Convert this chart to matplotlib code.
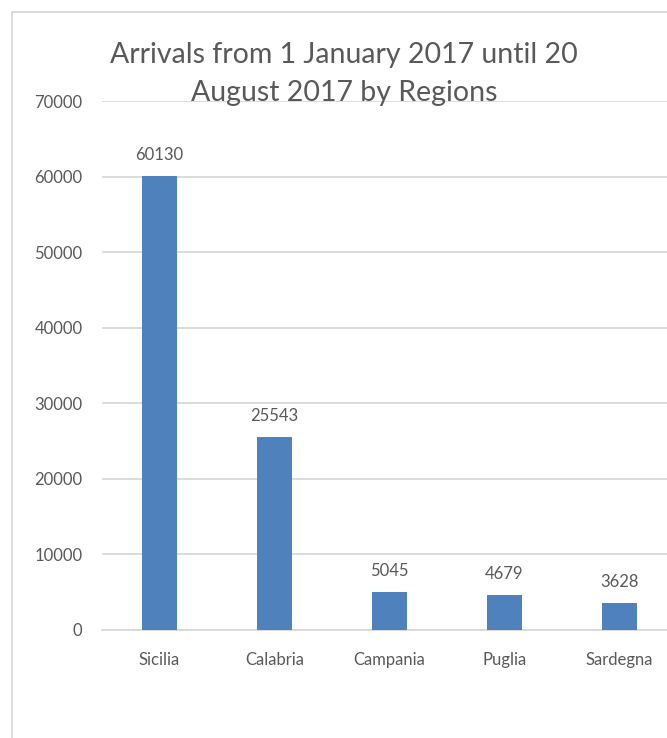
import matplotlib
matplotlib.use("Agg")
import matplotlib.pyplot as plt
from matplotlib.lines import Line2D

regions = ["Sicilia", "Calabria", "Campania", "Puglia", "Sardegna"]
arrivals = [60130, 25543, 5045, 4679, 3628]
yticks = [0, 10000, 20000, 30000, 40000, 50000, 60000, 70000]

plt.rcParams['font.family'] = ['Lato', 'DejaVu Sans']
text_col = "#595959"
grid_col = "#D9D9D9"
bar_col = "#4F81BD"

fig = plt.figure(figsize=(6.67, 7.38), dpi=100)
# axes run past the right edge, as in the cropped screenshot
ax = fig.add_axes([102 / 667, 108 / 738, 575 / 667, 529 / 738])

x = range(len(regions))
bars = ax.bar(x, arrivals, width=0.31, color=bar_col, zorder=3)
for b, v in zip(bars, arrivals):
    ax.annotate(str(v), (b.get_x() + b.get_width() / 2, v), xytext=(0, 9),
                textcoords="offset points", ha="center", va="bottom",
                fontsize=12, color=text_col)

ax.set_xlim(-0.5, len(regions) - 0.5)
ax.set_ylim(0, 70000)
ax.set_yticks(yticks)
ax.set_yticklabels([str(t) for t in yticks])
ax.set_xticks(list(x))
ax.set_xticklabels(regions)
ax.tick_params(axis="y", length=0, pad=14, labelsize=12, labelcolor=text_col)
ax.tick_params(axis="x", length=0, pad=16, labelsize=12, labelcolor=text_col)
ax.yaxis.grid(True, color=grid_col, linewidth=1.3, zorder=0)
for s in ["top", "right", "left"]:
    ax.spines[s].set_visible(False)
ax.spines["bottom"].set_color(grid_col)
ax.spines["bottom"].set_linewidth(1.3)

fig.text(344 / 667, 1 - 74 / 738, "Arrivals from 1 January 2017 until 20\nAugust 2017 by Regions",
         ha="center", va="center", fontsize=20.5, color=text_col, linespacing=1.55)

# chart frame (top and left edges visible in the crop)
fig.add_artist(Line2D([12 / 667, 1.0], [1 - 12 / 738, 1 - 12 / 738],
                      transform=fig.transFigure, color=grid_col, linewidth=1.3))
fig.add_artist(Line2D([12 / 667, 12 / 667], [0, 1 - 12 / 738],
                      transform=fig.transFigure, color=grid_col, linewidth=1.3))

fig.savefig("out.png", dpi=100)
